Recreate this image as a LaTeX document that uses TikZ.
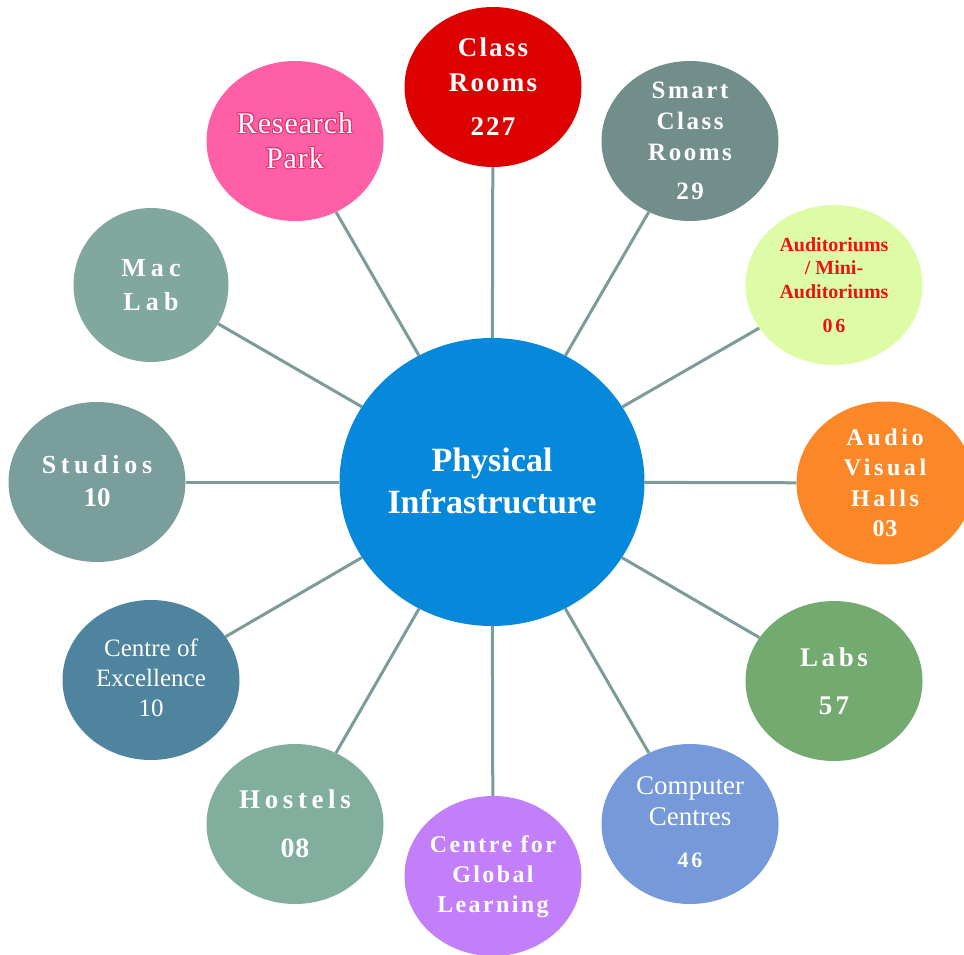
\documentclass[tikz,border=0pt]{standalone}
\usepackage{fontspec}
\setmainfont{Liberation Serif}
\usepackage{contour}
\contourlength{1pt}
\usetikzlibrary{shapes.geometric}
\definecolor{cClass}{HTML}{DD0000}
\definecolor{cSmart}{HTML}{728E8B}
\definecolor{cAudi}{HTML}{DEFBA6}
\definecolor{cAudiTxt}{HTML}{EE1111}
\definecolor{cAV}{HTML}{FB8727}
\definecolor{cLabs}{HTML}{73AA70}
\definecolor{cComp}{HTML}{7599D9}
\definecolor{cCGL}{HTML}{C27FF9}
\definecolor{cHostel}{HTML}{82AE9E}
\definecolor{cCoE}{HTML}{4F849F}
\definecolor{cStudio}{HTML}{7A9E9B}
\definecolor{cMac}{HTML}{80A89E}
\definecolor{cRes}{HTML}{FF5FA6}
\definecolor{cResGlow}{HTML}{E8336F}
\definecolor{cCenter}{HTML}{0689DB}
\definecolor{cLine}{HTML}{7C9B99}
\newcommand\fs[2]{\fontsize{#1}{#2}\selectfont}
\newcommand\lsp[1]{\addfontfeature{LetterSpace=#1}}
\tikzset{
  bub/.style={ellipse, minimum width=177pt, minimum height=160pt, inner sep=0pt},
  conn/.style={draw=cLine, line width=3pt},
  lbl/.style={text=white, align=center, inner sep=0pt},
}
\begin{document}
\begin{tikzpicture}[x=1pt,y=-1pt]
\useasboundingbox (0,0) rectangle (964,955);
\clip (0,0) rectangle (964,955);
\fill[white] (0,0) rectangle (964,955);
% centre
\node[ellipse, minimum width=305pt, minimum height=288pt, inner sep=0pt, fill=cCenter] (ctr) at (492,482) {};
\node[lbl, font=\bfseries\fs{34}{42}] (ctr-t) at (492,481) {Physical\\Infrastructure};
% outer bubbles
\node[bub, fill=cClass]  (cls) at (493,87) {};
\node[bub, fill=cSmart]  (smt) at (690,141) {};
\node[bub, fill=cAudi]   (aud) at (834,285) {};
\node[bub, fill=cAV, minimum height=163pt] (av) at (885,483) {};
\node[bub, fill=cLabs]   (lab) at (834,681) {};
\node[bub, fill=cComp]   (cmp) at (690,824) {};
\node[bub, fill=cCGL]    (cgl) at (493,876) {};
\node[bub, fill=cHostel] (hos) at (295,824) {};
\node[bub, fill=cCoE]    (coe) at (151,680) {};
\node[bub, fill=cStudio] (stu) at (97,482) {};
\node[bub, fill=cMac, minimum width=155pt, minimum height=154pt] (mac) at (151,285) {};
\node[bub, fill=cRes]    (res) at (295,141) {};
% connectors
\foreach \n in {cls,smt,aud,av,lab,cmp,cgl,hos,coe,stu,mac,res}
  \draw[conn] (ctr) -- (\n);
% labels
\node[lbl, font=\bfseries\fs{27}{35}\lsp{8}] (cls-t) at (cls) {Class\\Rooms\\[9pt]227};
\node[lbl, font=\bfseries\fs{25}{31}\lsp{10}] (smt-t) at (smt) {Smart\\Class\\Rooms\\[8pt]29};
\node[lbl, text=cAudiTxt, font=\bfseries\fs{20}{23.5}] (aud-t) at (aud) {Auditoriums\\/ Mini-\\Auditoriums\\[11pt]{\lsp{14}06}};
\node[lbl, font=\bfseries\fs{24}{30.5}\lsp{15}] (av-t) at (885,483) {Audio\\Visual\\Halls\\{\addfontfeature{LetterSpace=3}03}};
\node[lbl, font=\bfseries\fs{27}{48}\lsp{13}] (lab-t) at (lab) {Labs\\57};
\node[lbl, font=\fs{27}{31}] (cmp-t) at (690,822) {Computer\\Centres\\[11pt]{\bfseries\lsp{13}\fs{22}{22}46}};
\node[lbl, font=\bfseries\fs{24}{30}\lsp{10}] (cgl-t) at (493,877) {Centre for\\Global\\Learning};
\node[lbl, font=\bfseries\fs{27}{49}\lsp{17}] (hos-t) at (hos) {Hostels\\{\addfontfeature{LetterSpace=2}\fs{28}{28}08}};
\node[lbl, font=\fs{25}{30}] (coe-t) at (151,678) {Centre of\\Excellence\\10};
\node[lbl, font=\bfseries\fs{26}{33}\lsp{18}] (stu-t) at (97,481) {Studios\\{\addfontfeature{LetterSpace=0}\fs{27}{27}10}};
\node[lbl, font=\bfseries\fs{26}{34}\lsp{20}] (mac-t) at (mac) {Mac\\Lab};
\node[lbl, font=\fs{30}{35}\lsp{3}] (res-t) at (res) {\contour{cResGlow}{Research}\\\contour{cResGlow}{Park}};
\end{tikzpicture}
\end{document}
